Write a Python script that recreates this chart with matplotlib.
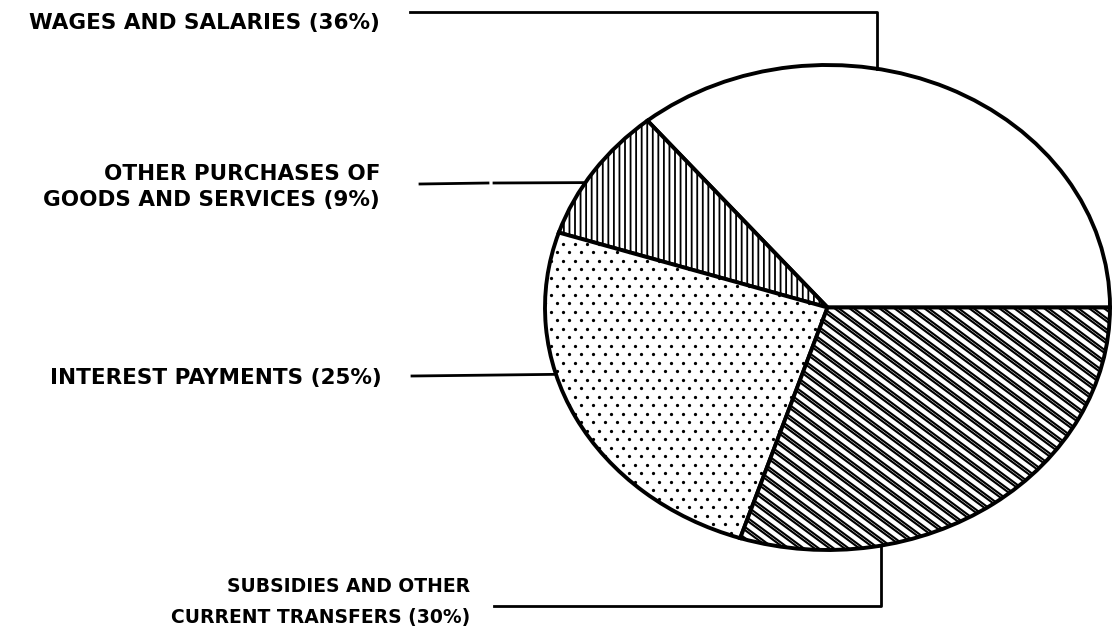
import numpy as np
import matplotlib
matplotlib.use("Agg")
import matplotlib.pyplot as plt

# shares of current expenditure (%)
labels = ["WAGES AND SALARIES (36%)",
          "OTHER PURCHASES OF\nGOODS AND SERVICES (9%)",
          "INTEREST PAYMENTS (25%)",
          "SUBSIDIES AND OTHER\nCURRENT TRANSFERS (30%)"]
shares = [36, 9, 25, 30]

plt.rcParams['hatch.linewidth'] = 1.3
plt.rcParams['font.family'] = ['DejaVu Sans']

W, H = 1119, 635
fig = plt.figure(figsize=(W / 100, H / 100), dpi=100)

# ellipse bounds in pixels
ex0, ex1, ey0, ey1 = 545, 1110, 65, 550
rx, ry = (ex1 - ex0) / 2, (ey1 - ey0) / 2
cx, cy = ex0 + rx, ey0 + ry
ax = fig.add_axes([ex0 / W, (H - ey1) / H, (ex1 - ex0) / W, (ey1 - ey0) / H])
wedges, _ = ax.pie(shares, startangle=0, counterclock=True,
                   colors=['white'] * 4,
                   wedgeprops=dict(edgecolor='black', linewidth=2.8, clip_on=False))
ax.set_aspect('auto')
ax.set_xlim(-1, 1)
ax.set_ylim(-1, 1)
ax.axis('off')

wedges[1].set_hatch('|||')

# stippled dots for interest payments (staggered grid, in pixels)
dotx, doty = [], []
for j, py in enumerate(np.arange(ey0, ey1, 8.5)):
    off = 6 if j % 2 else 0
    for px in np.arange(ex0 + off, ex1, 12):
        dotx.append((px - cx) / rx)
        doty.append((cy - py) / ry)
sc = ax.scatter(dotx, doty, s=5.5, color='black', linewidths=0, zorder=3)
sc.set_clip_path(wedges[2])

# double diagonal lines for subsidies
slope = -0.74 * rx / ry
xx = np.array([-1.2, 1.2])
for x0 in np.arange(-3.0, 3.0, 0.053):
    for d in (0.0, 0.015):
        ln, = ax.plot(xx, slope * (xx - x0 - d), color='black', lw=1.5)
        ln.set_clip_path(wedges[3])

# overlay for labels and leader lines, pixel coordinates
ov = fig.add_axes([0, 0, 1, 1], facecolor='none')
ov.set_xlim(0, W)
ov.set_ylim(H, 0)
ov.axis('off')


def rim(angle):
    a = np.deg2rad(angle)
    return cx + rx * np.cos(a), cy - ry * np.sin(a)


lw = 2.0
fs = 15.5
# wages
px, py = rim(80)
ov.plot([410, px, px], [12, 12, py], color='black', lw=lw)
ov.text(380, 23, labels[0], ha='right', va='center', fontsize=fs, fontweight='bold')
# other purchases
px, py = rim(149)
ov.plot([420, 488], [184, 183], color='black', lw=lw)
ov.plot([494, px], [183, py], color='black', lw=lw)
ov.text(380, 187, labels[1], ha='right', va='center', fontsize=fs, fontweight='bold',
        linespacing=1.4, multialignment='right')
# interest
px, py = rim(196)
ov.plot([412, px], [376, py], color='black', lw=lw)
ov.text(382, 378, labels[2], ha='right', va='center', fontsize=fs, fontweight='bold')
# subsidies
px, py = rim(281)
ov.plot([494, px, px], [606, 606, py], color='black', lw=lw)
ov.text(470, 602, labels[3], ha='right', va='center', fontsize=13.5, fontweight='bold',
        linespacing=1.75, multialignment='right')

fig.savefig("out.png", dpi=100)
